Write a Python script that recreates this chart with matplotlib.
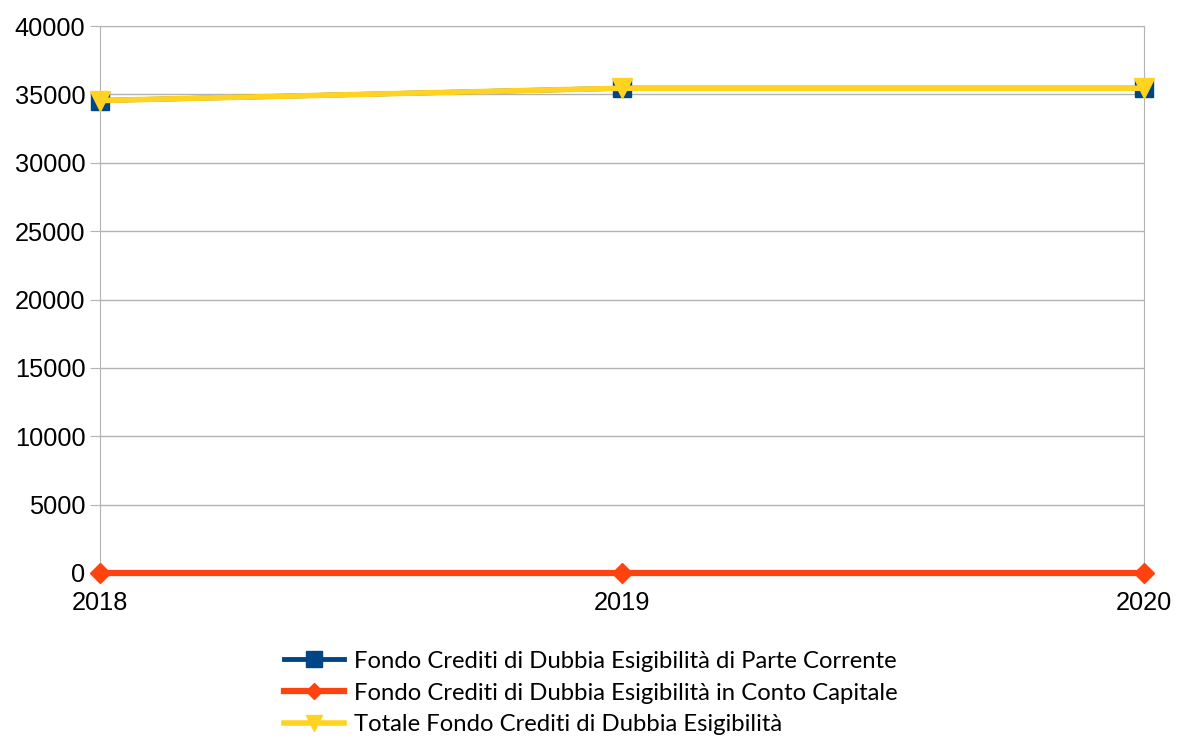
import matplotlib.pyplot as plt

years = ['2018', '2019', '2020']
parte_corrente = [34550, 35450, 35450]
conto_capitale = [0, 0, 0]
totale = [34550, 35450, 35450]

labels = ['Fondo Crediti di Dubbia Esigibilità di Parte Corrente',
          'Fondo Crediti di Dubbia Esigibilità in Conto Capitale',
          'Totale Fondo Crediti di Dubbia Esigibilità']

fig = plt.figure(figsize=(11.77, 7.4), dpi=100)
ax = fig.add_axes([100/1177, 1 - 573/740, 1044/1177, 547/740])

x = list(range(len(years)))
ax.plot(x, parte_corrente, color='#004586', lw=3.5, marker='s', ms=13,
        label=labels[0], clip_on=False, zorder=3)
ax.plot(x, conto_capitale, color='#ff420e', lw=4.5, marker='D', ms=10,
        label=labels[1], clip_on=False, zorder=4)
ax.plot(x, totale, color='#ffd320', lw=4, marker='v', ms=14,
        label=labels[2], clip_on=False, zorder=5)

ax.set_xlim(0, 2)
ax.set_ylim(0, 40000)
ax.set_yticks(range(0, 40001, 5000))
ax.set_xticks(x)
ax.set_xticklabels(years)
ax.grid(axis='y', color='#b3b3b3', lw=1)
ax.set_axisbelow(True)
for s in ax.spines.values():
    s.set_color('#b3b3b3')
ax.tick_params(colors='#b3b3b3', length=7, labelcolor='black',
               labelsize=18.3, labelfontfamily='Liberation Sans')
ax.tick_params(axis='x', pad=6)

fig.legend(loc='center', bbox_to_anchor=(0.502, 0.0635), frameon=False,
           prop={'family': 'Lato', 'size': 17.2}, handlelength=2.5,
           labelspacing=0.45, handletextpad=0.45, borderpad=0,
           markerscale=0.85)

fig.savefig('out.png', dpi=100)
